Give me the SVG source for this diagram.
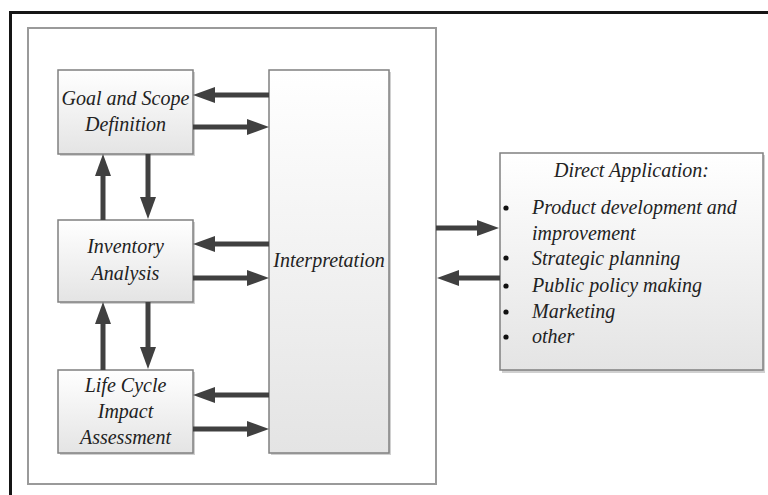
<svg xmlns="http://www.w3.org/2000/svg" width="768" height="495" viewBox="0 0 768 495">
  <defs>
    <linearGradient id="boxFill" x1="0" y1="0" x2="0" y2="1">
      <stop offset="0" stop-color="#ffffff"/>
      <stop offset="1" stop-color="#e4e4e4"/>
    </linearGradient>
    <marker id="head" markerUnits="userSpaceOnUse" markerWidth="22" markerHeight="16" refX="0" refY="8" orient="auto">
      <path d="M0,0 L22,8 L0,16 Z" fill="#404040"/>
    </marker>
    <style>
      .box { fill: url(#boxFill); stroke: #808080; stroke-width: 1.5; }
      .shadow { fill: #b0b0b0; opacity: 0.6; }
      .lbl { font-family: "Liberation Serif", "Times New Roman", serif; font-style: italic; font-size: 20px; fill: #222; }
      .mid { text-anchor: middle; }
      .arrow { stroke: #404040; stroke-width: 5; fill: none; marker-end: url(#head); }
    </style>
  </defs>

  <rect width="768" height="495" fill="#ffffff"/>

  <!-- outer frame -->
  <path d="M10.5,495 V12.5 H768" fill="none" stroke="#151515" stroke-width="3"/>

  <!-- LCA framework container -->
  <g id="framework">
    <rect x="29" y="29" width="408" height="456" fill="#c8c8c8"/>
    <rect x="28" y="28" width="408" height="456" fill="#ffffff" stroke="#9a9a9a" stroke-width="2"/>
  </g>

  <g id="goal">
    <rect class="shadow" x="60" y="72" width="135" height="84"/>
    <rect class="box" x="58" y="70" width="135" height="84"/>
    <text class="lbl mid" x="125.5" y="105">Goal and Scope</text>
    <text class="lbl mid" x="125.5" y="131">Definition</text>
  </g>

  <g id="inventory">
    <rect class="shadow" x="60" y="222" width="135" height="82"/>
    <rect class="box" x="58" y="220" width="135" height="82"/>
    <text class="lbl mid" x="125.5" y="253">Inventory</text>
    <text class="lbl mid" x="125.5" y="280">Analysis</text>
  </g>

  <g id="lcia">
    <rect class="shadow" x="60" y="372" width="135" height="83"/>
    <rect class="box" x="58" y="370" width="135" height="83"/>
    <text class="lbl mid" x="125.5" y="392">Life Cycle</text>
    <text class="lbl mid" x="125.5" y="418">Impact</text>
    <text class="lbl mid" x="125.5" y="444">Assessment</text>
  </g>

  <g id="interpretation">
    <rect class="shadow" x="271" y="72" width="120" height="383"/>
    <rect class="box" x="269" y="70" width="120" height="383"/>
    <text class="lbl mid" x="329" y="267">Interpretation</text>
  </g>

  <g id="application">
    <rect class="shadow" x="502" y="155" width="263" height="218"/>
    <rect class="box" x="500" y="153" width="263" height="217"/>
    <text class="lbl mid" x="631.5" y="177">Direct Application:</text>
    <g fill="#111">
      <circle cx="506" cy="208" r="2.6"/>
      <circle cx="506" cy="258" r="2.6"/>
      <circle cx="506" cy="286" r="2.6"/>
      <circle cx="506" cy="312" r="2.6"/>
      <circle cx="506" cy="337" r="2.6"/>
    </g>
    <text class="lbl" x="532" y="214">Product development and</text>
    <text class="lbl" x="532" y="240">improvement</text>
    <text class="lbl" x="532" y="265">Strategic planning</text>
    <text class="lbl" x="532" y="292">Public policy making</text>
    <text class="lbl" x="532" y="318">Marketing</text>
    <text class="lbl" x="532" y="343">other</text>
  </g>

  <g id="connectors">
    <!-- interpretation <-> stages -->
    <line class="arrow" x1="269" y1="95" x2="215" y2="95"/>
    <line class="arrow" x1="193" y1="127" x2="247" y2="127"/>
    <line class="arrow" x1="269" y1="244" x2="215" y2="244"/>
    <line class="arrow" x1="193" y1="278" x2="247" y2="278"/>
    <line class="arrow" x1="269" y1="395" x2="215" y2="395"/>
    <line class="arrow" x1="193" y1="429" x2="247" y2="429"/>
    <!-- between stages -->
    <line class="arrow" x1="103" y1="220" x2="103" y2="176"/>
    <line class="arrow" x1="148" y1="154" x2="148" y2="197"/>
    <line class="arrow" x1="103" y1="370" x2="103" y2="324"/>
    <line class="arrow" x1="148" y1="302" x2="148" y2="347"/>
    <!-- framework <-> direct application -->
    <line class="arrow" x1="436" y1="228" x2="477" y2="228"/>
    <line class="arrow" x1="500" y1="278" x2="459" y2="278"/>
  </g>
</svg>
